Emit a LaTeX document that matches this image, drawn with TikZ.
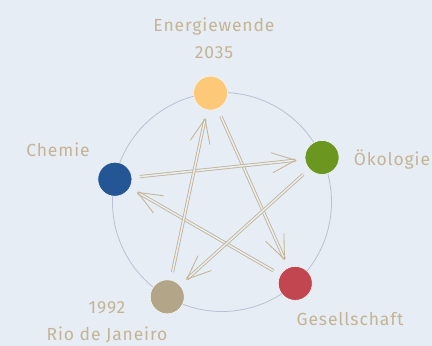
\documentclass[tikz,border=0pt]{standalone}
\usepackage{fontspec}
\setsansfont{Fira Sans}[LetterSpace=5]
\usetikzlibrary{arrows.meta,calc}

\definecolor{bgblue}{HTML}{E6EDF5}
\definecolor{ringgrey}{HTML}{B9C1D3}
\definecolor{sandtext}{HTML}{C4B493}
\definecolor{sunyellow}{HTML}{FDC877}
\definecolor{leafgreen}{HTML}{6B961F}
\definecolor{rosered}{HTML}{C1464F}
\definecolor{navyblue}{HTML}{245595}
\definecolor{khaki}{HTML}{B3A588}

\begin{document}
\begin{tikzpicture}[x=1pt,y=1pt,
  dot/.style={circle,minimum size=34pt,inner sep=0pt,draw=white!55!bgblue,line width=0.6pt},
  notetext/.style={font=\sffamily\fontsize{17.5}{27}\selectfont,text=sandtext,align=center},
  flow/.style={draw=sandtext,double=bgblue,double distance=1.5pt,line width=0.85pt,
    shorten <=8pt,shorten >=8pt,-{Straight Barb[length=24pt,width=20pt]}}]
\fill[bgblue] (0,0) rectangle (432,-346);
\useasboundingbox (0,0) rectangle (432,-346);
\coordinate (c) at (222,-202);
\draw[ringgrey,line width=0.8pt] (c) circle (109.5);
% the five fields on the ring
\foreach \n/\a/\col in {ew/96/sunyellow,oeko/24/leafgreen,ges/-48/rosered,rio/-120/khaki,chem/168/navyblue}
  \node[dot,fill=\col] (\n) at ($(c)+(\a:109.5)$) {};
% pentagram of arrows
\foreach \s/\t in {ew/ges,ges/chem,chem/oeko,oeko/rio,rio/ew}
  \draw[flow] (\s) -- (\t);
\node[notetext] (ewtext) at (214,-38) {Energiewende\\2035};
\node[notetext] (oekotext) at (392,-160) {Ökologie};
\node[notetext] (gestext) at (350,-319) {Gesellschaft};
\node[notetext] (riotext) at (107,-322) {1992\\Rio de Janeiro};
\node[notetext] (chemtext) at (58,-150) {Chemie};
\end{tikzpicture}
\end{document}
